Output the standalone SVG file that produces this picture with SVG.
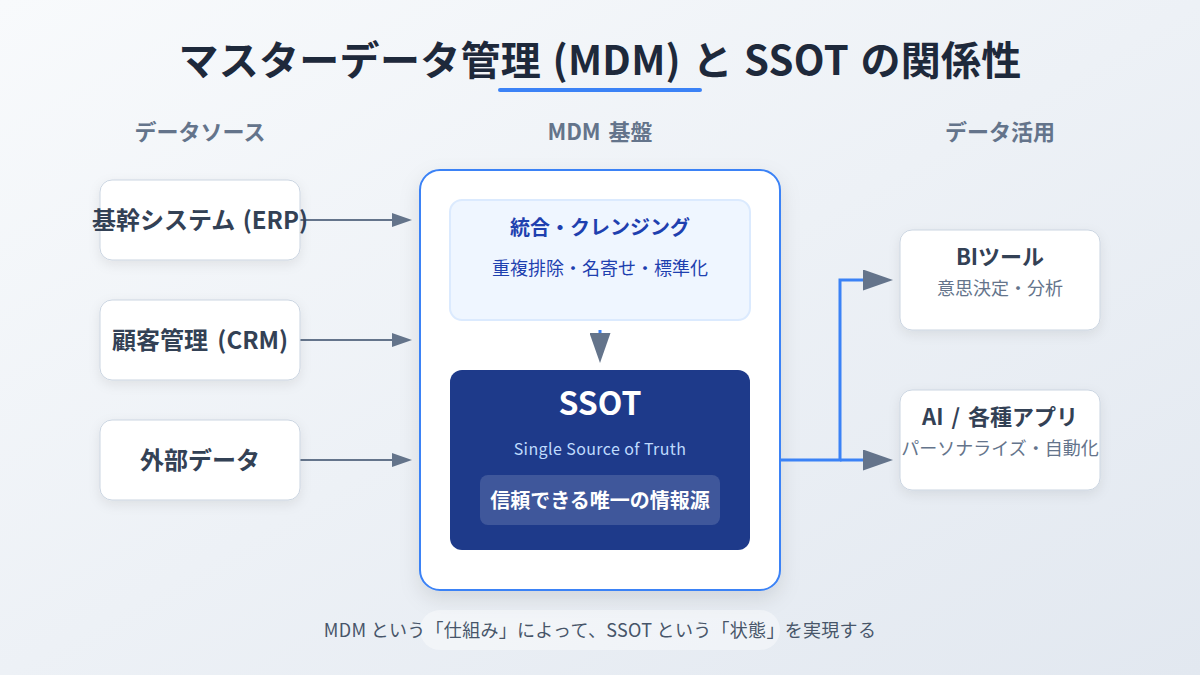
<svg xmlns="http://www.w3.org/2000/svg" width="1200" height="675" viewBox="0 0 1200 675">
<style>
text{font-family:"Noto Sans CJK JP","Noto Sans",sans-serif;text-anchor:middle}
.title{font-size:40px;font-weight:700;fill:#1e293b;word-spacing:2px;letter-spacing:.3px}
.head{font-size:22px;font-weight:700;fill:#64748b;word-spacing:3px}
.card{fill:#fff;stroke:#cbd5e1;stroke-width:1;filter:url(#shadow)}
.name{font-size:24px;font-weight:700;fill:#334155;word-spacing:2px}
.name2{font-size:22px;font-weight:700;fill:#334155;word-spacing:3px}
.sub{font-size:18px;fill:#64748b}
.gray{fill:none;stroke:#64748b;stroke-width:2;marker-end:url(#arrow)}
.blue{fill:none;stroke:#3b82f6;stroke-width:3;marker-end:url(#arrow)}
</style>
<defs>
<linearGradient id="bg" x1="0" y1="0" x2="1" y2="1"><stop offset="0" stop-color="#f8fafc"/><stop offset="1" stop-color="#e2e8f0"/></linearGradient>
<filter id="shadow" x="-20%" y="-20%" width="140%" height="140%"><feDropShadow dx="0" dy="4" stdDeviation="6" flood-color="#000" flood-opacity="0.08"/></filter>
<filter id="shadow-lg" x="-20%" y="-20%" width="140%" height="140%"><feDropShadow dx="0" dy="8" stdDeviation="10" flood-color="#000" flood-opacity="0.1"/></filter>
<marker id="arrow" viewBox="0 0 10 7" refX="0" refY="3.5" markerWidth="10" markerHeight="7" orient="auto"><polygon points="0 0,10 3.5,0 7" fill="#64748b"/></marker>
</defs>
<rect id="background" width="1200" height="675" fill="url(#bg)"/>
<g id="title"><text class="title" x="600" y="75">マスターデータ管理 (MDM) と SSOT の関係性</text><rect x="498" y="88" width="204" height="4" rx="2" fill="#3b82f6"/></g>
<text class="head" x="200" y="140">データソース</text>
<text class="head" x="600" y="140">MDM 基盤</text>
<text class="head" x="1000" y="140">データ活用</text>
<g id="connectors">
<path class="gray" d="M300 220H392"/>
<path class="gray" d="M300 340H392"/>
<path class="gray" d="M300 460H392"/>
</g>
<g id="node-erp"><rect class="card" x="100" y="180" width="200" height="80" rx="12"/><text class="name" x="200" y="229">基幹システム (ERP)</text></g>
<g id="node-crm"><rect class="card" x="100" y="300" width="200" height="80" rx="12"/><text class="name" x="200" y="349" style="word-spacing:4px">顧客管理 (CRM)</text></g>
<g id="node-ext"><rect class="card" x="100" y="420" width="200" height="80" rx="12"/><text class="name" x="200" y="469">外部データ</text></g>
<g id="node-mdm"><rect x="420" y="170" width="360" height="420" rx="20" fill="#fff" stroke="#3b82f6" stroke-width="2" filter="url(#shadow-lg)"/></g>
<g id="node-cleansing"><rect x="450" y="200" width="300" height="120" rx="12" fill="#eff6ff" stroke="#dbeafe" stroke-width="2"/><text x="600" y="235" font-size="20" font-weight="700" fill="#1e40af">統合・クレンジング</text><text x="600" y="275" font-size="18" fill="#1e40af">重複排除・名寄せ・標準化</text></g>
<g id="node-ssot"><rect x="450" y="370" width="300" height="180" rx="12" fill="#1e3a8a"/><text x="600" y="415" font-size="32" font-weight="700" fill="#fff">SSOT</text><text x="600" y="455" font-size="16" fill="#bfdbfe" letter-spacing=".4">Single Source of Truth</text><rect x="480" y="475" width="240" height="50" rx="8" fill="#fff" fill-opacity="0.15"/><text x="600" y="508" font-size="20" font-weight="700" fill="#fff">信頼できる唯一の情報源</text></g>
<g id="connectors-2">
<path class="blue" d="M600 330V333"/>
<path class="blue" d="M780 460H840V280H863"/>
<path class="blue" d="M840 460H863"/>
</g>
<g id="node-bi"><rect class="card" x="900" y="230" width="200" height="100" rx="12"/><text class="name2" x="1000" y="265">BIツール</text><text class="sub" x="1000" y="295">意思決定・分析</text></g>
<g id="node-ai"><rect class="card" x="900" y="390" width="200" height="100" rx="12"/><text class="name2" x="1000" y="425">AI / 各種アプリ</text><text class="sub" x="1000" y="455">パーソナライズ・自動化</text></g>
<g id="footer"><rect x="420" y="610" width="360" height="40" rx="20" fill="#fff" fill-opacity="0.4"/><text x="600" y="637" font-size="18" fill="#475569" letter-spacing=".3">MDM という「仕組み」によって、SSOT という「状態」を実現する</text></g>
</svg>
